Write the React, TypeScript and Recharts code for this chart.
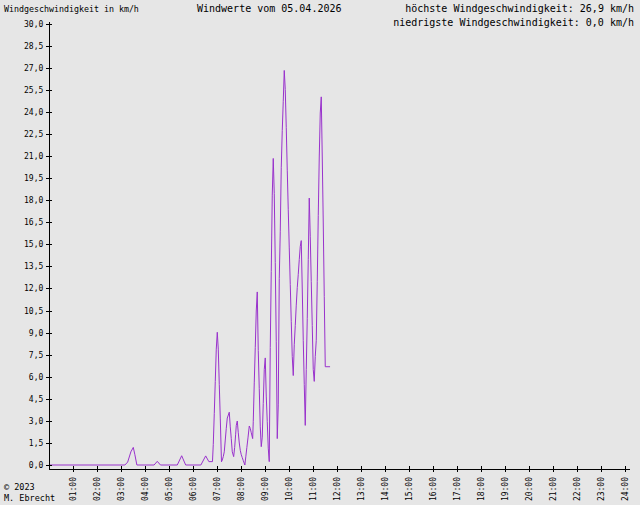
import React from 'react';
import { LineChart, Line, XAxis, YAxis } from 'recharts';

// time in minutes since midnight
const times: number[] = [
  0, 189, 196, 204, 210, 214, 219,
  262, 270, 278,
  320, 331, 341,
  379, 391, 399, 408, 410, 412.5, 415, 417.5, 420, 422.5, 425, 427.5, 430.5,
  432.5, 435, 437.5, 440, 442.5, 445, 450, 452.5, 455, 457.5, 461, 463.5, 466, 467.5, 470,
  472.5, 475, 477.5, 480, 482.5, 485, 489, 491.5, 494, 497, 500, 502.5, 505, 508.5, 510,
  512.5, 515, 517.5, 520, 522.5, 525, 527.5, 530, 532.5, 535, 537.5, 540, 542.5, 545, 547.5,
  550, 552.5, 555, 557.5, 560, 562.5, 565, 567.5, 570, 572.5, 575, 577.5, 580, 582.5, 585,
  587.5, 590, 592.5, 595, 597.5, 600, 602.5, 605, 607.5, 610, 612.5, 615, 617.5, 620, 622.5,
  625, 627.5, 630, 632.5, 635, 637.5, 640, 642.5, 645, 647.5, 650, 652.5, 655, 657.5, 660,
  662.5, 665, 667.5, 670, 672.5, 675, 677.5, 680, 682.5, 685, 687.5, 690, 702,
];

// wind speed in km/h
const speeds: number[] = [
  0, 0, 0.2, 0.9, 1.2, 0.7, 0,
  0, 0.25, 0,
  0, 0.63, 0,
  0, 0.62, 0.23, 0.23, 1.4, 3.5, 5.7, 7.9, 9.05, 7.9, 5.5, 3.2, 0.22,
  0.34, 0.57, 0.9, 1.7, 2.5, 3.2, 3.6, 2.6, 1.8, 0.9, 0.57, 1.2, 2.1, 2.7, 3.0,
  2.2, 1.5, 1.0, 0.7, 0.5, 0.3, 0.0, 0.6, 1.2, 1.9, 2.66, 2.5, 2.2, 1.8, 2.95,
  5.6, 8.0, 10.5, 11.8, 7.8, 5.2, 2.6, 1.25, 1.9, 4.2, 6.5, 7.3, 4.7, 2.95, 1.15,
  0.23, 8.0, 13.2, 18.4, 20.9, 18.5, 13.8, 8.4, 1.8, 4.1, 12.7, 15.9, 20.3, 22.8, 24.8,
  26.9, 25.6, 23.0, 20.1, 17.4, 14.8, 12.3, 9.8, 7.4, 6.1, 8.2, 9.5, 10.9, 12.1, 13.0,
  14.0, 14.9, 15.3, 12.0, 8.5, 5.5, 2.7, 6.5, 10.0, 14.0, 18.2, 15.6, 12.5, 9.5, 6.5,
  5.7, 7.4, 8.5, 12.5, 17.0, 21.0, 24.0, 25.1, 21.0, 16.5, 11.5, 6.7, 6.7,
];

const yTicks: number[] = [0, 1.5, 3, 4.5, 6, 7.5, 9, 10.5, 12, 13.5, 15, 16.5, 18, 19.5, 21, 22.5, 24, 25.5, 27, 28.5, 30];
const xTicks: number[] = [60, 120, 180, 240, 300, 360, 420, 480, 540, 600, 660, 720, 780, 840, 900, 960, 1020, 1080, 1140, 1200, 1260, 1320, 1380, 1440];

const data = times.map((t, i) => ({ t, v: speeds[i] }));

const FONT = '"DejaVu Sans Mono", monospace';

const fmtY = (v: number) => v.toFixed(1).replace('.', ',');
const fmtX = (m: number) => `${String(Math.round(m / 60)).padStart(2, '0')}:00`;

const YTick = (props: any) => {
  const { x, y, payload } = props;
  return (
    <g>
      <line x1={x - 3} x2={x + 3} y1={y} y2={y} stroke="#000" shapeRendering="crispEdges" />
      <text x={x - 6} y={y} textAnchor="end" dominantBaseline="central" fontSize={8} fontFamily={FONT} fill="#000">
        {fmtY(payload.value)}
      </text>
    </g>
  );
};

const XTick = (props: any) => {
  const { x, y, payload } = props;
  return (
    <g>
      <line x1={x} x2={x} y1={y - 3} y2={y + 3} stroke="#000" shapeRendering="crispEdges" />
      <text
        transform={`translate(${x},${y + 8}) rotate(-90)`}
        textAnchor="end"
        dominantBaseline="central"
        fontSize={8}
        fontFamily={FONT}
        fill="#000"
      >
        {fmtX(payload.value)}
      </text>
    </g>
  );
};

export default function App() {
  return (
    <div style={{ position: 'absolute', left: 0, top: 0, width: 640, height: 505, background: '#e6e6e6', overflow: 'hidden' }}>
      <LineChart width={640} height={505} data={data} margin={{ top: 22, right: 10, bottom: 0, left: 0 }}>
        <XAxis
          dataKey="t"
          type="number"
          domain={[0, 1452]}
          allowDataOverflow
          ticks={xTicks}
          interval={0}
          height={36}
          tickSize={0}
          tickMargin={0}
          tickLine={false}
          axisLine={{ stroke: '#000', shapeRendering: 'crispEdges' }}
          tick={<XTick />}
        />
        <YAxis
          type="number"
          domain={[-0.2727, 30.2045]}
          allowDataOverflow
          ticks={yTicks}
          interval={0}
          width={49.3}
          tickSize={0}
          tickMargin={0}
          tickLine={false}
          axisLine={{ stroke: '#000', shapeRendering: 'crispEdges' }}
          tick={<YTick />}
        />
        <Line
          dataKey="v"
          type="linear"
          stroke="#9932cc"
          strokeWidth={1}
          dot={false}
          activeDot={false}
          isAnimationActive={false}
        />
      </LineChart>
      <svg width={640} height={505} style={{ position: 'absolute', left: 0, top: 0, pointerEvents: 'none' }}>
        <g fontFamily={FONT} fill="#000">
          <text x={4} y={9} fontSize={8.3} dominantBaseline="central">Windgeschwindigkeit in km/h</text>
          <text x={197} y={8} fontSize={10} dominantBaseline="central">Windwerte vom 05.04.2026</text>
          <text x={634} y={8} fontSize={10} textAnchor="end" dominantBaseline="central">höchste Windgeschwindigkeit: 26,9 km/h</text>
          <text x={634} y={22} fontSize={10} textAnchor="end" dominantBaseline="central">niedrigste Windgeschwindigkeit: 0,0 km/h</text>
          <text x={4} y={487} fontSize={8.5} dominantBaseline="central">© 2023</text>
          <text x={4} y={498} fontSize={8.5} dominantBaseline="central">M. Ebrecht</text>
        </g>
      </svg>
    </div>
  );
}
